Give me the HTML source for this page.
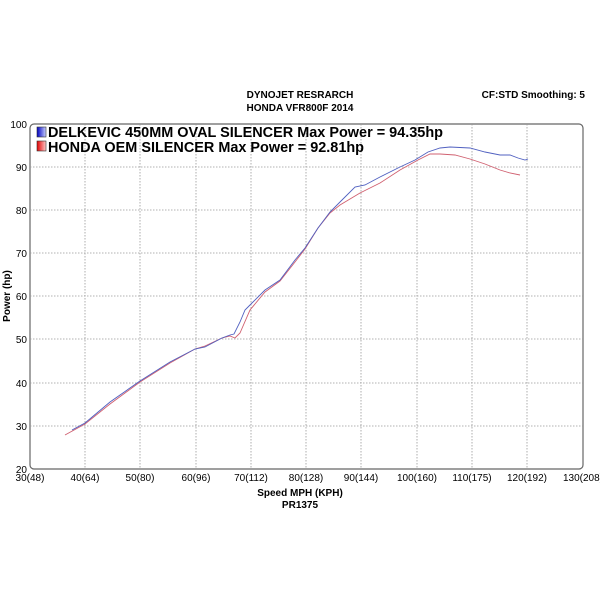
<!DOCTYPE html>
<html><head><style>
body{margin:0;background:#fff;width:600px;height:600px;overflow:hidden}
svg{display:block}
text{font-family:"Liberation Sans",Arial,sans-serif}
</style></head><body>
<svg width="600" height="600" viewBox="0 0 600 600">
<defs>
<linearGradient id="gb" x1="0" x2="1"><stop offset="0" stop-color="#0000c0"/><stop offset="1" stop-color="#c8d0ff"/></linearGradient>
<linearGradient id="gr" x1="0" x2="1"><stop offset="0" stop-color="#e00000"/><stop offset="1" stop-color="#ffc8c8"/></linearGradient>
</defs>
<text x="300" y="98" font-size="10" font-weight="bold" text-anchor="middle">DYNOJET RESRARCH</text>
<text x="300" y="111" font-size="10" font-weight="bold" text-anchor="middle">HONDA VFR800F 2014</text>
<text x="585" y="98" font-size="10" font-weight="bold" text-anchor="end">CF:STD Smoothing: 5</text>
<rect x="30" y="124" width="553" height="345" rx="4" fill="#fff" stroke="#666" stroke-width="1.2"/>
<g stroke="#999" stroke-width="0.8" stroke-dasharray="1.5,1.5">
<line x1="85" y1="124" x2="85" y2="469"/><line x1="140" y1="124" x2="140" y2="469"/>
<line x1="196" y1="124" x2="196" y2="469"/><line x1="251" y1="124" x2="251" y2="469"/>
<line x1="306" y1="124" x2="306" y2="469"/><line x1="361" y1="124" x2="361" y2="469"/>
<line x1="417" y1="124" x2="417" y2="469"/><line x1="472" y1="124" x2="472" y2="469"/>
<line x1="527" y1="124" x2="527" y2="469"/>
<line x1="30" y1="167" x2="583" y2="167"/><line x1="30" y1="210" x2="583" y2="210"/>
<line x1="30" y1="253" x2="583" y2="253"/><line x1="30" y1="296" x2="583" y2="296"/>
<line x1="30" y1="339" x2="583" y2="339"/><line x1="30" y1="383" x2="583" y2="383"/>
<line x1="30" y1="426" x2="583" y2="426"/>
</g>
<g font-size="10" text-anchor="end">
<text x="27" y="128">100</text><text x="27" y="171">90</text><text x="27" y="214">80</text>
<text x="27" y="257">70</text><text x="27" y="300">60</text><text x="27" y="343">50</text>
<text x="27" y="387">40</text><text x="27" y="430">30</text><text x="27" y="473">20</text>
</g>
<g font-size="10" text-anchor="middle">
<text x="30" y="481">30(48)</text><text x="85" y="481">40(64)</text><text x="140" y="481">50(80)</text>
<text x="196" y="481">60(96)</text><text x="251" y="481">70(112)</text><text x="306" y="481">80(128)</text>
<text x="361" y="481">90(144)</text><text x="417" y="481">100(160)</text><text x="472" y="481">110(175)</text>
<text x="527" y="481">120(192)</text><text x="583" y="481">130(208)</text>
</g>
<text x="300" y="496" font-size="10" font-weight="bold" text-anchor="middle">Speed MPH (KPH)</text>
<text x="300" y="508" font-size="10" font-weight="bold" text-anchor="middle">PR1375</text>
<text transform="translate(10,296) rotate(-90)" font-size="10" font-weight="bold" text-anchor="middle">Power (hp)</text>
<rect x="37" y="127" width="9" height="10" fill="url(#gb)" stroke="#333" stroke-width="0.6"/>
<rect x="37" y="141" width="9" height="10" fill="url(#gr)" stroke="#333" stroke-width="0.6"/>
<text x="48" y="137" font-size="14.5" font-weight="bold" textLength="395" lengthAdjust="spacingAndGlyphs">DELKEVIC 450MM OVAL SILENCER Max Power = 94.35hp</text>
<text x="48" y="152" font-size="14.5" font-weight="bold" textLength="316" lengthAdjust="spacingAndGlyphs">HONDA OEM SILENCER Max Power = 92.81hp</text>
<polyline fill="none" stroke="#d06070" stroke-width="0.9" points="65,435 85,424 110,404 140,382 170,363 195,349 205,346 222,338 230,336 235,338 240,333 250,310 265,292 280,281 295,262 305,249 318,228 330,213 340,205 360,193 380,183 400,170 418,160 430,154 440,154 455,155 470,159 485,164 500,170 510,173 520,175"/>
<polyline fill="none" stroke="#5060c0" stroke-width="0.9" points="72,430 85,423 110,402 140,381 170,362 195,349 205,347 222,338 230,335 234,334 240,322 245,310 250,305 265,290 280,280 295,260 305,248 318,228 330,212 340,202 355,187 365,185 380,177 400,167 415,160 428,152 440,148 450,147 470,148 485,152 500,155 510,155 518,158 525,160 528,159"/>
</svg>
</body></html>
